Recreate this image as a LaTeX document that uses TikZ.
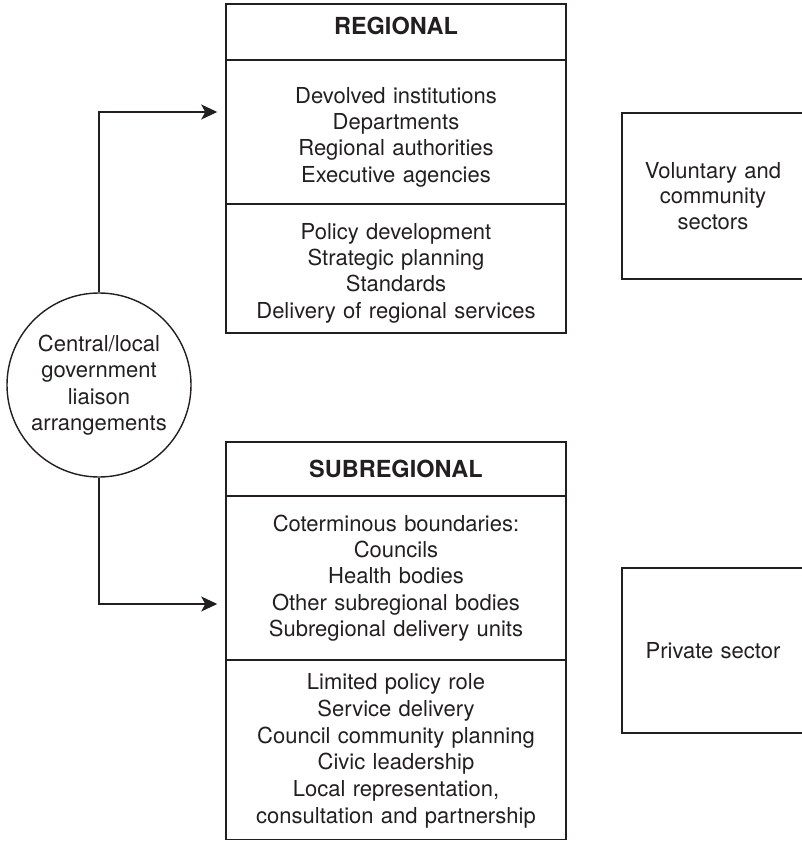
\documentclass[tikz,border=0pt]{standalone}
\usepackage{fontspec}
\setmainfont{TeX Gyre Heros}
\usetikzlibrary{arrows.meta,calc}
\definecolor{ink}{HTML}{231F20}
\begin{document}
\begin{tikzpicture}[x=1pt,y=-1pt,
  every node/.style={text=ink,font=\fontsize{22}{26.4}\selectfont},
  headfont/.style={font=\fontsize{23.5}{26}\selectfont\bfseries},
  part/.style={draw=ink,line width=1.5pt,rectangle,inner sep=0pt,minimum width=340pt,text width=334pt,align=center},
  side/.style={draw=ink,line width=1.5pt,rectangle,inner sep=0pt,minimum width=182pt,text width=172pt,align=center},
  hub/.style={draw=ink,line width=1.4pt,circle,inner sep=0pt,minimum size=184pt,align=center},
  link/.style={draw=ink,line width=1.2pt,-{Stealth[length=16pt,width=15pt,inset=4pt]}}
]
\useasboundingbox (0,0) rectangle (802,841);
\clip (0,0) rectangle (802,841);
% regional
\node[part,headfont,minimum height=56pt,text height=16.8pt,text depth=12pt] (reghead) at (396,32) {REGIONAL};
\node[part,minimum height=144pt] (regmid) at (396,132) {\rule{0pt}{26pt}Devolved institutions\\Departments\\Regional authorities\\Executive agencies};
\node[part,minimum height=129pt] (regbot) at (396,268.5) {\rule{0pt}{25pt}Policy development\\Strategic planning\\Standards\\Delivery of regional services};
% subregional
\node[part,headfont,minimum height=54pt] (subhead) at (396,469) {SUBREGIONAL};
\node[part,minimum height=164pt] (submid) at (396,578) {Coterminous boundaries:\\Councils\\Health bodies\\Other subregional bodies\\Subregional delivery units};
\node[part,minimum height=179.5pt,font=\fontsize{22}{26.7}\selectfont] (subbot) at (396,749.75) {\rule{0pt}{18pt}Limited policy role\\Service delivery\\Council community planning\\Civic leadership\\Local representation,\\consultation and partnership};
% side boxes
\node[side,minimum height=166pt,font=\fontsize{22}{25.6}\selectfont] (vol) at (713,196) {Voluntary and\\community\\sectors};
\node[side,minimum height=165pt] (priv) at (713,650.5) {Private sector};
% hub
\node[hub] (hub) at (99,385) {Central/local\\government\\liaison\\arrangements};
% connectors
\draw[link,shorten >=8pt] (hub.north) |- ([yshift=20pt]regmid.west);
\draw[link,shorten >=8pt] (hub.south) |- ([yshift=-26pt]submid.west);
\end{tikzpicture}
\end{document}
